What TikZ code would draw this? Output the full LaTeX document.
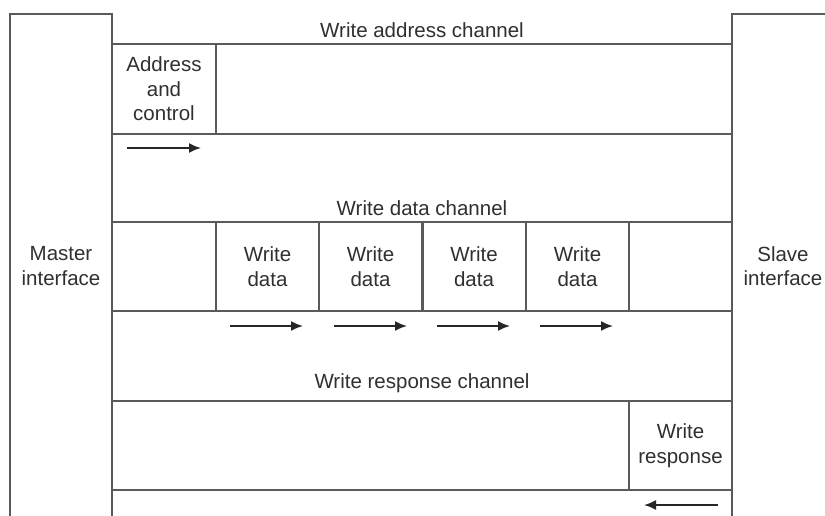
\documentclass[tikz,border=0pt]{standalone}
\usepackage{fontspec}
\setmainfont{Liberation Sans}
\usetikzlibrary{arrows.meta}
\definecolor{ln}{HTML}{5A5A5A}
\definecolor{tx}{HTML}{303030}
\begin{document}
\begin{tikzpicture}[x=1pt,y=-1pt,
  box/.style={draw=ln,line width=2pt,rectangle,inner sep=0pt,text=tx,align=center,
    font=\fontsize{20.5}{24.5}\selectfont},
  lbl/.style={text=tx,font=\fontsize{20.5}{24.5}\selectfont,inner sep=0pt},
  flow/.style={draw=black!85,line width=1.8pt,-{Latex[length=12pt,width=10pt]}}]
\fill[white] (0,0) rectangle (825,515);
\clip (0,0) rectangle (825,515);
% interfaces
\node[box,minimum width=102pt,minimum height=504pt] (master) at (61,266) {Master\\interface};
\node[box,minimum width=102pt,minimum height=504pt] (slave) at (783,266) {Slave\\interface};
% write address channel
\node[lbl] (addrlbl) at (422,30) {Write address channel};
\node[box,minimum width=620pt,minimum height=90pt] (addr) at (422,89) {};
\node[box,minimum width=104pt,minimum height=90pt] (actl) at (164,89) {Address\\and\\control};
\coordinate (a1s) at (127,148); \coordinate (a1e) at (201,148);
\draw[flow] (a1s) -- (a1e);
% write data channel
\node[lbl] (datalbl) at (422,208) {Write data channel};
\node[box,minimum width=620pt,minimum height=89pt] (data) at (422,266.5) {};
\node[box,minimum width=103pt,minimum height=89pt] (wd1) at (267.5,266.5) {Write\\data};
\node[box,minimum width=103pt,minimum height=89pt] (wd2) at (370.5,266.5) {Write\\data};
\node[box,minimum width=103pt,minimum height=89pt] (wd3) at (474,266.5) {Write\\data};
\node[box,minimum width=103pt,minimum height=89pt] (wd4) at (577.5,266.5) {Write\\data};
\coordinate (d1s) at (230,326); \coordinate (d1e) at (303,326);
\coordinate (d2s) at (334,326); \coordinate (d2e) at (407,326);
\coordinate (d3s) at (437,326); \coordinate (d3e) at (510,326);
\coordinate (d4s) at (540,326); \coordinate (d4e) at (613,326);
\draw[flow] (d1s) -- (d1e);
\draw[flow] (d2s) -- (d2e);
\draw[flow] (d3s) -- (d3e);
\draw[flow] (d4s) -- (d4e);
% write response channel
\node[lbl] (resplbl) at (422,383) {Write response channel};
\node[box,minimum width=620pt,minimum height=89pt] (resp) at (422,445.5) {};
\node[box,minimum width=103pt,minimum height=89pt] (wr) at (680.5,445.5) {Write\\response};
\coordinate (r1s) at (718,505); \coordinate (r1e) at (644,505);
\draw[flow] (r1s) -- (r1e);
\end{tikzpicture}
\end{document}
